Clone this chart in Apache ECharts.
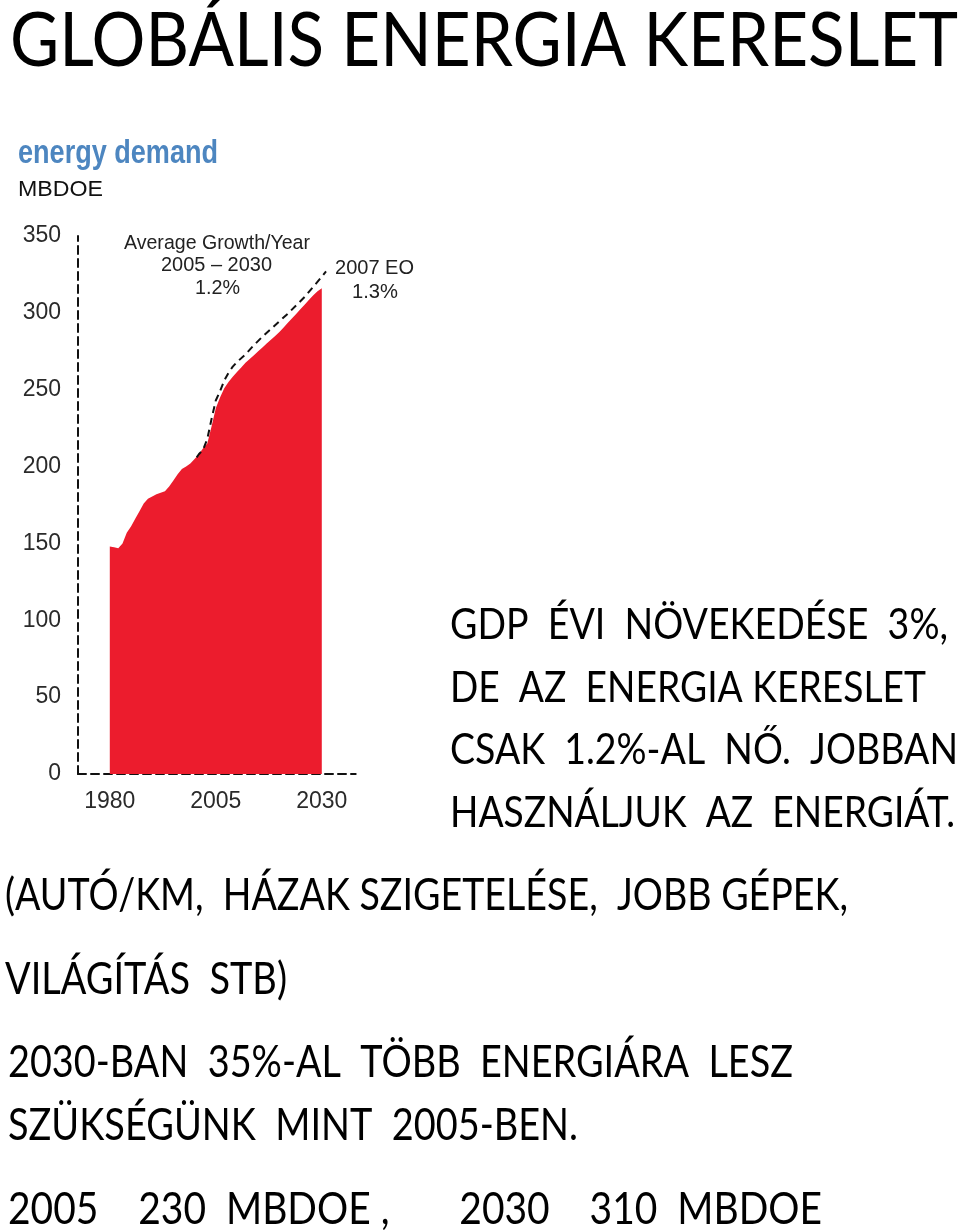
<!DOCTYPE html>
<html><head><meta charset="utf-8">
<script src="https://cdn.jsdelivr.net/npm/echarts@6/dist/echarts.min.js"></script>
<style>html,body{margin:0;padding:0;background:#fff}#c{width:960px;height:1232px}</style>
</head><body><div id="c"></div>
<script>
// ---- data ----
const years = [1980,1981,1982,1983,1984,1985,1986,1987,1988,1989,1990,1991,1992,1993,1994,1995,1996,1997,1998,1999,2000,2001,2002,2003,2004,2005,2006,2007,2008,2009,2010,2011,2012,2013,2014,2015,2016,2017,2018,2019,2020,2021,2022,2023,2024,2025,2026,2027,2028,2029,2030];
const demand = [148,147.5,146.8,150,157,161,166,171,176,179,180.5,182,183,184,187,191,195,198.5,200,202,205,208,212,215,226,238,245,251,255,258.5,261.5,264.5,267.5,270,272.5,275,277.5,280,282.5,285,287.5,290.5,293.5,296.5,299.5,302.5,305.5,308.5,311.5,314,316];
const eoYears = [2000.5,2001,2002,2003,2004,2005,2006,2007,2008,2009,2010,2012,2014,2016,2018,2020,2022,2024,2026,2028,2030,2031];
const eoDemand = [206,208,211,218,231,243,249,256,261,265,268,273,279,284.5,289.5,294.5,299.5,305,310.5,317,323.5,327];
const yTicks = [0,50,100,150,200,250,300,350];
const xTicks = [1980,2005,2030];
const titleText = 'GLOBÁLIS ENERGIA KERESLET';
const chartTitle = 'energy demand';
const unitText = 'MBDOE';
const growthNote = ['Average Growth/Year','2005 – 2030','1.2%'];
const eoNote = ['2007 EO','1.3%'];
const rightBlock = ['GDP  ÉVI  NÖVEKEDÉSE  3%,','DE  AZ  ENERGIA KERESLET','CSAK  1.2%-AL  NŐ.  JOBBAN','HASZNÁLJUK  AZ  ENERGIÁT.'];
const midBlock = ['(AUTÓ/KM,  HÁZAK SZIGETELÉSE,  JOBB GÉPEK,','VILÁGÍTÁS  STB)'];
const bottomBlock = ['2030-BAN  35%-AL  TÖBB  ENERGIÁRA  LESZ','SZÜKSÉGÜNK  MINT  2005-BEN.','2005    230  MBDOE ,       2030    310  MBDOE'];

// ---- helpers ----
const ctx = document.createElement('canvas').getContext('2d');
function fit(text, x1, x2, cy, size, family, color, weight) {
  weight = weight || 'normal';
  ctx.font = weight + ' ' + size + 'px "' + family + '"';
  const w = ctx.measureText(text).width || 1;
  return {type:'text', x:x1, y:cy, scaleX:(x2-x1)/w, silent:true,
    style:{text:text, fontSize:size, fontFamily:family, fontWeight:weight, fill:color, verticalAlign:'middle', align:'left'}};
}
const BODY = 'Lato', CH = 'Liberation Sans';
const graphics = [
  fit(titleText, 10, 958, 42, 75, BODY, '#000'),
  fit(rightBlock[0], 450, 948, 625, 43, BODY, '#000'),
  fit(rightBlock[1], 450, 926, 688, 43, BODY, '#000'),
  fit(rightBlock[2], 450, 958, 750, 43, BODY, '#000'),
  fit(rightBlock[3], 450, 955, 813, 43, BODY, '#000'),
  fit(midBlock[0], 5, 848, 896, 44, BODY, '#000'),
  fit(midBlock[1], 5, 287, 980, 44, BODY, '#000'),
  fit(bottomBlock[0], 8, 793, 1063, 44, BODY, '#000'),
  fit(bottomBlock[1], 8, 578, 1126, 44, BODY, '#000'),
  fit(bottomBlock[2], 8, 822, 1210, 44, BODY, '#000'),
  fit(chartTitle, 18, 218, 154, 33, CH, '#4d86c0', 'bold'),
  fit(unitText, 18, 103, 190, 22, CH, '#111'),
  fit(growthNote[0], 124, 310, 243, 20.5, CH, '#222'),
  fit(growthNote[1], 161, 272, 265, 20.5, CH, '#222'),
  fit(growthNote[2], 195, 240, 288, 20.5, CH, '#222'),
  fit(eoNote[0], 335, 414, 268, 20.5, CH, '#222'),
  fit(eoNote[1], 352, 398, 292, 20.5, CH, '#222')
];

const chart = echarts.init(document.getElementById('c'), null, {renderer:'canvas'});
chart.setOption({
  backgroundColor:'#fff',
  animation:false,
  grid:{left:78, top:236, width:277.7, height:538},
  xAxis:{type:'value', min:1972.5, max:2038,
    axisLine:{show:true, lineStyle:{color:'#111', width:2, type:[8,5]}},
    axisTick:{show:false}, splitLine:{show:false},
    axisLabel:{customValues:xTicks, formatter:v=>String(v), margin:16, fontSize:23, color:'#2a2a2a', fontFamily:CH}},
  yAxis:{type:'value', min:0, max:350, interval:50,
    axisLine:{show:true, lineStyle:{color:'#111', width:2, type:[8,5]}},
    axisTick:{show:false}, splitLine:{show:false},
    axisLabel:{formatter:v=>String(v), margin:17, fontSize:23, color:'#2a2a2a', fontFamily:CH}},
  series:[
    {type:'line', data:years.map((y,i)=>[y,demand[i]]), showSymbol:false, symbol:'none',
      lineStyle:{width:0, color:'#ec1c2d'}, areaStyle:{color:'#ec1c2d', opacity:1}, z:2},
    {type:'line', data:eoYears.map((y,i)=>[y,eoDemand[i]]), showSymbol:false, symbol:'none',
      lineStyle:{width:2, color:'#111', type:[7,5]}, z:3}
  ],
  graphic:graphics
});
</script></body></html>
